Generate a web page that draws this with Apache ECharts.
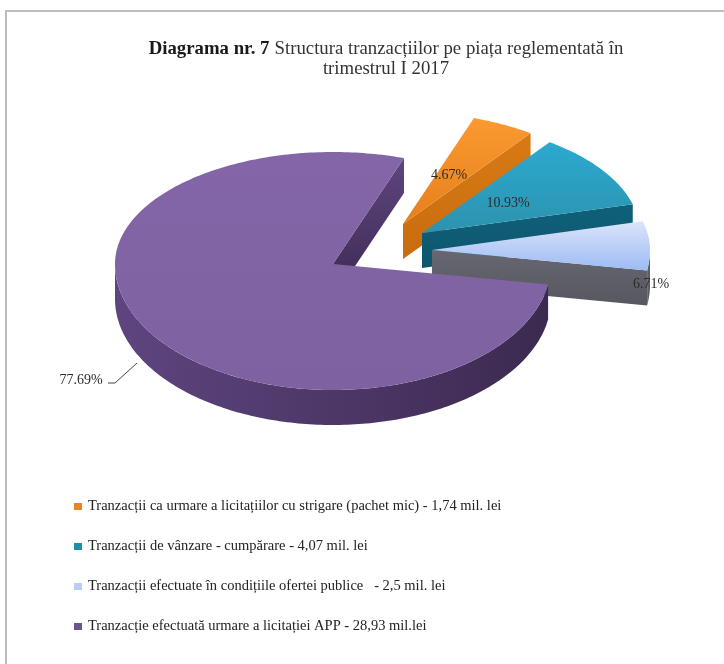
<!DOCTYPE html>
<html><head><meta charset="utf-8">
<style>html,body{margin:0;padding:0;background:#fff}#c{width:724px;height:664px}</style>
<script src="https://cdn.jsdelivr.net/npm/echarts@6/dist/echarts.min.js"></script>
</head><body><div id="c"></div>
<script>
const categories = [
  'Tranzacții ca urmare a licitațiilor cu strigare (pachet mic) - 1,74 mil. lei',
  'Tranzacții de vânzare - cumpărare - 4,07 mil. lei',
  'Tranzacții efectuate în condițiile ofertei publice   - 2,5 mil. lei',
  'Tranzacție efectuată urmare a licitației APP - 28,93 mil.lei'
];
const values = [1.74, 4.07, 2.5, 28.93];
const percentLabels = ['4.67%', '10.93%', '6.71%', '77.69%'];

// Presentation: projected 3D pie layout and styling, separate from the data
const firstSliceAngle = 19, rx = 218, ryBack = 112, ryFront = 126, depth = 35;
const apex = [[403,224],[422,233],[432,250],[333,264]];
const labelPos = [[449,175],[508,203],[651,284],[81,380]];
const topFill = [['#fb9a30','#e57f1c'],['#2ba9d0','#2c93ae'],['#dbe4fb','#9dbbf4'],['#8466a8','#7d61a0']];
const wallFill = [['#d87a14','#c96c10'],['#10607a','#0d566e'],['#666770','#56575f'],['#5e457f','#3c2a50']];
const legendColor = ['#e8842a','#1f8ea8','#b9cdf5','#6a5590'];

const total = values.reduce((a,b)=>a+b,0);
const starts = []; values.reduce((acc,v)=>{starts.push(acc); return acc+v/total*360;}, firstSliceAngle);

function pt(c,a,dz){
  const t=a*Math.PI/180, cy=Math.cos(t);
  return [c[0]+rx*Math.sin(t), c[1]-(cy>0?ryBack:ryFront)*cy+(dz||0)];
}
function arc(c,a0,a1,dz){
  const out=[],n=Math.max(2,Math.ceil(Math.abs(a1-a0)));
  for(let i=0;i<=n;i++) out.push(pt(c,a0+(a1-a0)*i/n,dz));
  return out;
}
function grad(x0,y0,x1,y1,cols){
  return new echarts.graphic.LinearGradient(x0,y0,x1,y1,[{offset:0,color:cols[0]},{offset:1,color:cols[1]}]);
}
function renderSlice(i){
  return function(params,api){
    const sweep=api.value(1)/total*360, a0=starts[i], a1=a0+sweep, c=apex[i];
    const kids=[];
    // outer rim wall, visible on the near half only
    const w0=Math.max(a0,90), w1=Math.min(a1,270);
    if(w1>w0){
      const pts=arc(c,w0,w1,0).concat(arc(c,w1,w0,depth));
      kids.push({type:'polygon',shape:{points:pts},style:{fill:grad(1,0,0,0,[wallFill[i][1],wallFill[i][0]])}});
    }
    // radial wall at the clockwise end of the slice, when it faces the viewer
    const endA=((a1%360)+360)%360;
    if(endA<180){
      const p=pt(c,a1,0), q=pt(c,a1,depth);
      kids.push({type:'polygon',shape:{points:[c,p,q,[c[0],c[1]+depth]]},
        style:{fill:grad(0,0,0,1,wallFill[i])}});
    }
    // top face
    kids.push({type:'polygon',shape:{points:[c].concat(arc(c,a0,a1,0))},
      style:{fill:grad(0,0,0,1,topFill[i])}});
    // data label
    const lp=labelPos[i];
    kids.push({type:'text',style:{text:percentLabels[i],x:lp[0],y:lp[1],align:'center',verticalAlign:'middle',
      font:'14px "Liberation Serif"',fill:'#2b2b2b'}});
    if(i===3){
      kids.push({type:'polyline',shape:{points:[[108,383],[115,383],[137,363]]},style:{stroke:'#444',lineWidth:1,fill:'none'}});
    }
    return {type:'group',children:kids};
  };
}

const chart=echarts.init(document.getElementById('c'),null,{renderer:'canvas'});
chart.setOption({
  animation:false,
  backgroundColor:'#fff',
  graphic:[
    {type:'line',shape:{x1:5.5,y1:11,x2:724,y2:11},style:{stroke:'#bdbdbd',lineWidth:2},silent:true},
    {type:'line',shape:{x1:6,y1:10,x2:6,y2:664},style:{stroke:'#bdbdbd',lineWidth:2},silent:true}
  ],
  title:{
    left:381,top:34,textAlign:'center',
    text:'{b|Diagrama nr. 7} {n|Structura tranzacțiilor pe piața reglementată în}\n{n|trimestrul I 2017}',
    textStyle:{fontWeight:'normal',rich:{
      b:{fontFamily:'Liberation Serif',fontSize:18.8,fontWeight:'bold',color:'#1a1a1a',lineHeight:20},
      n:{fontFamily:'Liberation Serif',fontSize:18.8,fontWeight:'normal',color:'#333',lineHeight:20}
    }}
  },
  legend:{
    show:true,orient:'vertical',left:69,top:494,itemWidth:8,itemHeight:7,itemGap:25,icon:'rect',
    data:categories,
    textStyle:{fontFamily:'Liberation Serif',fontSize:14.5,color:'#222',padding:[0,0,0,1]}
  },
  series:categories.map((name,i)=>({
    type:'custom',name,coordinateSystem:'none',silent:true,
    itemStyle:{color:legendColor[i]},
    data:[[i,values[i]]],
    renderItem:renderSlice(i)
  }))
});
</script></body></html>
